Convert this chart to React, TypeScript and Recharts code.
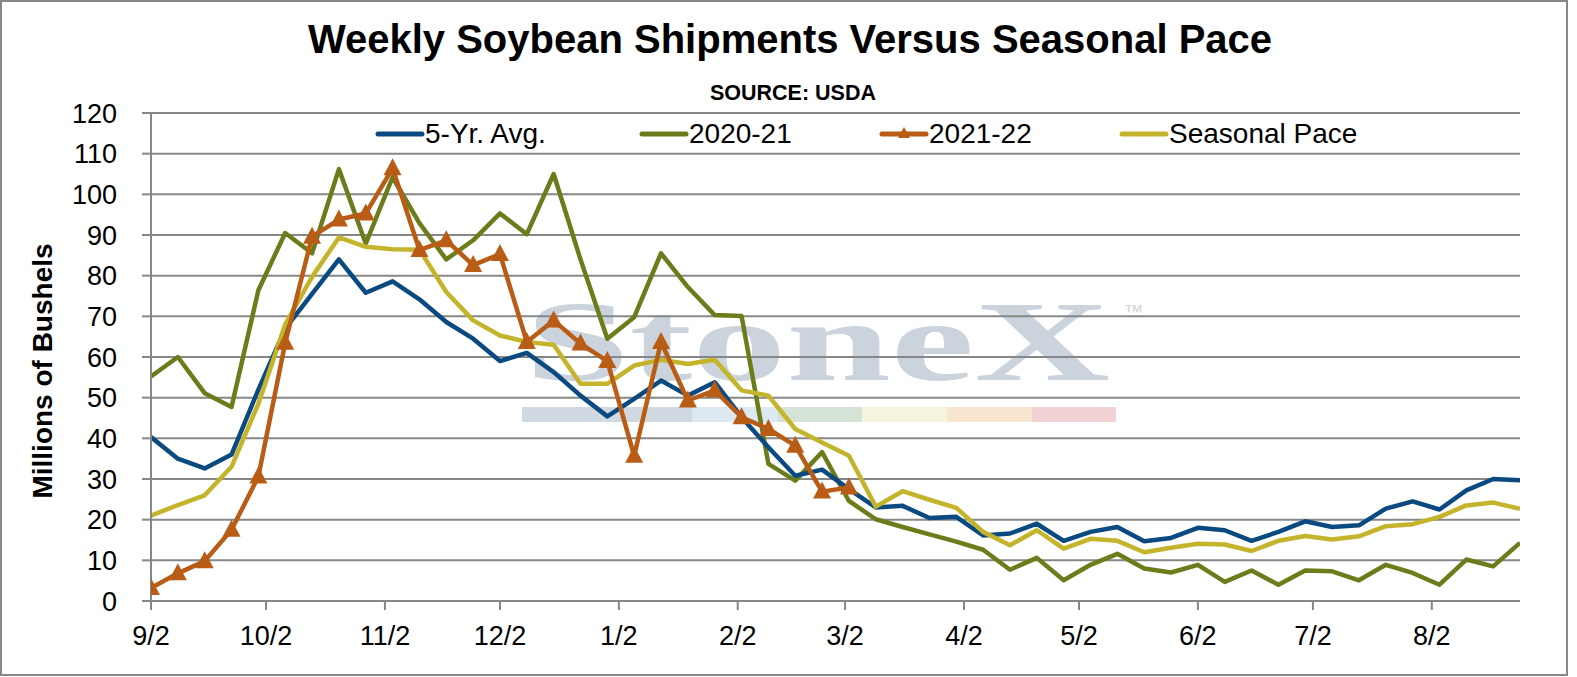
import React from 'react';
import { LineChart, Line, XAxis, YAxis, CartesianGrid } from 'recharts';

// weekly shipment dates, 2021-22 marketing year
const weeks = [
  '9/2', '9/9', '9/16', '9/23', '9/30', '10/7', '10/14', '10/21', '10/28',
  '11/4', '11/11', '11/18', '11/25', '12/2', '12/9', '12/16', '12/23', '12/30',
  '1/6', '1/13', '1/20', '1/27', '2/3', '2/10', '2/17', '2/24', '3/3', '3/10',
  '3/17', '3/24', '3/31', '4/7', '4/14', '4/21', '4/28', '5/5', '5/12', '5/19',
  '5/26', '6/2', '6/9', '6/16', '6/23', '6/30', '7/7', '7/14', '7/21', '7/28',
  '8/4', '8/11', '8/18', '8/25',
];

const fiveYrAvg = [
  40.3, 35, 32.6, 36, 52, 67, 75.5, 84, 75.8, 78.6, 74.2, 68.6, 64.5, 59, 61,
  56.3, 50.5, 45.4, 49.7, 54.2, 50.5, 53.8, 45.2, 37.8, 30.8, 32.3, 27.5, 23,
  23.4, 20.4, 20.7, 16.1, 16.6, 19, 14.8, 17, 18.2, 14.7, 15.5, 18, 17.4, 14.8,
  17, 19.6, 18.2, 18.6, 22.7, 24.5, 22.5, 27.2, 30, 29.7,
];

const y2020 = [
  55.2, 60, 51.1, 47.7, 76.4, 90.5, 85.5, 106.2, 87.9, 104.2, 92.9, 84, 88.7,
  95.3, 90.2, 105, 84, 64.5, 69.8, 85.5, 77.2, 70.3, 70.1, 33.7, 29.6, 36.6,
  24.6, 20.1, 18.2, 16.4, 14.6, 12.6, 7.7, 10.6, 5.1, 8.9, 11.6, 8, 7, 8.9, 4.7,
  7.5, 4, 7.5, 7.3, 5.1, 8.9, 6.9, 4, 10.2, 8.5, 14.3,
];

const y2021 = [
  3.2, 6.8, 9.8, 17.5, 30.6, 63.5, 89.6, 93.8, 95.3, 106.4, 86.3, 88.7, 82.6,
  85.3, 63.7, 69, 63.3, 59, 35.7, 63.7, 49.3, 51.8, 45.2, 42.3, 38.2, 26.9, 27.9,
];

const seasonalPace = [
  21, 23.6, 26, 33, 48.5, 68, 79.7, 89.4, 87.1, 86.5, 86.4, 76, 69, 65.3, 63.7,
  63, 53.4, 53.4, 57.9, 59.3, 58.3, 59.3, 51.8, 50.5, 42.3, 39, 35.7, 23.2, 27,
  24.9, 22.9, 17, 13.7, 17.4, 12.9, 15.3, 14.8, 12, 13.1, 14.1, 13.9, 12.3, 14.8,
  16, 15.1, 15.9, 18.4, 18.9, 20.7, 23.5, 24.2, 22.7,
];

const monthTicks = ['9/2', '10/2', '11/2', '12/2', '1/2', '2/2', '3/2', '4/2', '5/2', '6/2', '7/2', '8/2'];
const yTicks = [0, 10, 20, 30, 40, 50, 60, 70, 80, 90, 100, 110, 120];

const BLUE = '#0b4a80';
const GREEN = '#6b7d1b';
const ORANGE = '#b95c15';
const YELLOW = '#c4b42b';
const GRAY = '#878787';
const WATERMARK = '#cbd3dc';
const FONT = '"Liberation Sans", Arial, sans-serif';

// days since 9/2/2021
const dayOffset = (label: string) => {
  const [m, d] = label.split('/').map(Number);
  const year = m >= 9 ? 2021 : 2022;
  return Math.round((Date.UTC(year, m - 1, d) - Date.UTC(2021, 8, 2)) / 86400000);
};

const data = weeks.map((w, i) => ({
  day: dayOffset(w),
  fiveYr: fiveYrAvg[i],
  y2020: y2020[i],
  y2021: i < y2021.length ? y2021[i] : null,
  pace: seasonalPace[i],
}));

const tickDays = monthTicks.map(dayOffset);
const tickLabel = new Map(monthTicks.map((t) => [dayOffset(t), t]));

const legendItems = [
  { name: '5-Yr. Avg.', color: BLUE, x: 378, marker: false },
  { name: '2020-21', color: GREEN, x: 642, marker: false },
  { name: '2021-22', color: ORANGE, x: 882, marker: true },
  { name: 'Seasonal Pace', color: YELLOW, x: 1122, marker: false },
];

const watermarkBar = [
  { x: 522, w: 170, fill: '#d0d9e2' },
  { x: 692, w: 86, fill: '#dce8f2' },
  { x: 778, w: 84, fill: '#d5e3d7' },
  { x: 862, w: 85, fill: '#f6f4dd' },
  { x: 947, w: 85, fill: '#f8e6d0' },
  { x: 1032, w: 84, fill: '#f1d3d6' },
];

const Triangle = (props: any) => {
  const { cx, cy, index } = props;
  if (cx == null || cy == null || props.value == null) return <g key={`t${index}`} />;
  return (
    <polygon
      key={`t${index}`}
      points={`${cx},${cy - 10} ${cx + 9},${cy + 7} ${cx - 9},${cy + 7}`}
      fill={ORANGE}
    />
  );
};

const tickStyle = { fill: '#000', fontSize: 27, fontFamily: FONT };

const App = () => {
  return (
    <div style={{ position: 'absolute', left: 0, top: 0, width: 1568, height: 676, background: '#fff' }}>
      <svg width={1568} height={676} style={{ position: 'absolute', left: 0, top: 0 }}>
        <text
          x={525}
          y={380}
          textLength={585}
          lengthAdjust="spacingAndGlyphs"
          fontFamily='"Liberation Serif", "Times New Roman", serif'
          fontWeight="bold"
          fontSize={114}
          fill={WATERMARK}
        >
          StoneX
        </text>
        <text x={1124} y={318} fontFamily={FONT} fontSize={19} fill={WATERMARK}>
          ™
        </text>
        {watermarkBar.map((b) => (
          <rect key={b.x} x={b.x} y={407} width={b.w} height={15} fill={b.fill} />
        ))}
      </svg>

      <div style={{ position: 'absolute', left: 0, top: 0 }}>
        <LineChart width={1568} height={676} data={data} margin={{ top: 113, right: 48, bottom: 0, left: 0 }}>
          <CartesianGrid vertical={false} stroke={GRAY} strokeWidth={2} />
          <XAxis
            dataKey="day"
            type="number"
            domain={[0, dayOffset('8/25')]}
            ticks={tickDays}
            interval={0}
            tickFormatter={(v: number) => tickLabel.get(v) ?? ''}
            height={75}
            tick={tickStyle}
            tickSize={9}
            tickMargin={16}
            stroke={GRAY}
            strokeWidth={2}
            allowDataOverflow
          />
          <YAxis
            domain={[0, 120]}
            ticks={yTicks}
            interval={0}
            width={151}
            tick={tickStyle}
            tickSize={9}
            tickMargin={25}
            stroke={GRAY}
            strokeWidth={2}
          />
          <Line
            dataKey="y2020"
            type="linear"
            stroke={GREEN}
            strokeWidth={4.5}
            strokeLinejoin="round"
            dot={false}
            isAnimationActive={false}
          />
          <Line
            dataKey="fiveYr"
            type="linear"
            stroke={BLUE}
            strokeWidth={4.5}
            strokeLinejoin="round"
            dot={false}
            isAnimationActive={false}
          />
          <Line
            dataKey="pace"
            type="linear"
            stroke={YELLOW}
            strokeWidth={4.5}
            strokeLinejoin="round"
            dot={false}
            isAnimationActive={false}
          />
          <Line
            dataKey="y2021"
            type="linear"
            stroke={ORANGE}
            strokeWidth={4.5}
            strokeLinejoin="round"
            dot={Triangle}
            activeDot={false}
            isAnimationActive={false}
          />
        </LineChart>
      </div>

      <svg width={1568} height={676} style={{ position: 'absolute', left: 0, top: 0, pointerEvents: 'none' }}>
        <rect x={1} y={1} width={1566} height={674} fill="none" stroke={GRAY} strokeWidth={2} />
        <text x={790} y={53} textAnchor="middle" fontFamily={FONT} fontWeight="bold" fontSize={40} fill="#000">
          Weekly Soybean Shipments Versus Seasonal Pace
        </text>
        <text x={793} y={100} textAnchor="middle" fontFamily={FONT} fontWeight="bold" fontSize={21.5} fill="#000">
          SOURCE: USDA
        </text>
        <text
          x={0}
          y={0}
          transform="translate(52,371) rotate(-90)"
          textAnchor="middle"
          fontFamily={FONT}
          fontWeight="bold"
          fontSize={28}
          fill="#000"
        >
          Millions of Bushels
        </text>
        {legendItems.map((it) => (
          <g key={it.name}>
            <line x1={it.x} x2={it.x + 44} y1={134} y2={134} stroke={it.color} strokeWidth={5} strokeLinecap="round" />
            {it.marker && (
              <polygon
                points={`${it.x + 22},${127} ${it.x + 28},${138} ${it.x + 16},${138}`}
                fill={it.color}
              />
            )}
            <text x={it.x + 47} y={143} fontFamily={FONT} fontSize={28} fill="#000">
              {it.name}
            </text>
          </g>
        ))}
      </svg>
    </div>
  );
};

export default App;
